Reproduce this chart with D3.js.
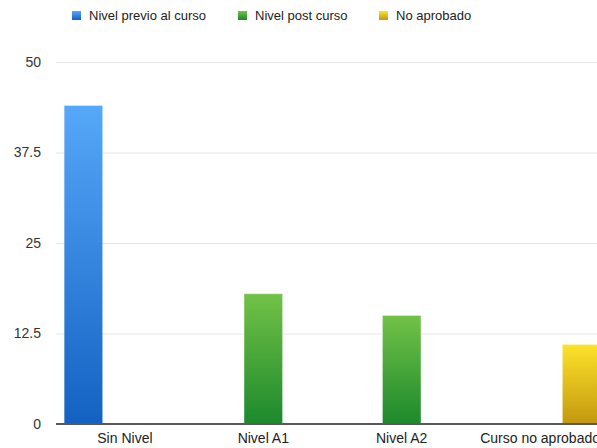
<!DOCTYPE html>
<html>
<head>
<meta charset="utf-8">
<script src="https://cdn.jsdelivr.net/npm/d3@7"></script>
<style>
  html, body { margin: 0; padding: 0; background: #fff; }
  svg { display: block; font-family: "Liberation Sans", Arial, sans-serif; }
</style>
</head>
<body>
<svg id="chart" width="597" height="448"></svg>
<script>
// ── Data ──────────────────────────────────────────────────────────────────────
const categories = ['Sin Nivel', 'Nivel A1', 'Nivel A2', 'Curso no aprobado'];
const seriesNames = ['Nivel previo al curso', 'Nivel post curso', 'No aprobado'];
const previoValues = [44, 0, 0, 0];
const postValues   = [0, 18, 15, 0];
const noAprobValues = [0, 0, 0, 11];
const yTicks = [0, 12.5, 25, 37.5, 50];

const seriesValues = [previoValues, postValues, noAprobValues];

// ── Colours (top / bottom of each bar gradient) ──────────────────────────────
const gradients = [
  { id: 'g-blue',   top: '#56a8f9', bottom: '#1361c2' },
  { id: 'g-green',  top: '#72c247', bottom: '#1c892c' },
  { id: 'g-yellow', top: '#fde32b', bottom: '#c3980f' }
];

const svg = d3.select('#chart');

// ── Layout ───────────────────────────────────────────────────────────────────
const plotLeft = 56, plotRight = 609, plotTop = 62, plotBottom = 424;

const x0 = d3.scaleBand()
  .domain(categories)
  .range([plotLeft, plotRight])
  .paddingInner(0.1)
  .paddingOuter(0.048);

const x1 = d3.scaleBand()
  .domain(d3.range(seriesNames.length))
  .range([0, x0.bandwidth()])
  .paddingInner(0.07)
  .paddingOuter(0.035);

const y = d3.scaleLinear().domain([0, 50]).range([plotBottom, plotTop]);

// ── Gradients ────────────────────────────────────────────────────────────────
const defs = svg.append('defs');
gradients.forEach(g => {
  const lg = defs.append('linearGradient')
    .attr('id', g.id)
    .attr('x1', 0).attr('y1', 0).attr('x2', 0).attr('y2', 1);
  lg.append('stop').attr('offset', '0%').attr('stop-color', g.top);
  lg.append('stop').attr('offset', '100%').attr('stop-color', g.bottom);
});

// ── Grid + y labels ──────────────────────────────────────────────────────────
const yAxis = svg.append('g')
  .attr('transform', `translate(${plotLeft},0)`)
  .call(d3.axisLeft(y).tickValues(yTicks).tickSize(-(597 - plotLeft)).tickFormat(d => d));

yAxis.select('.domain').remove();
yAxis.selectAll('.tick line').attr('stroke', '#e6e6e6').attr('stroke-width', 1);
yAxis.selectAll('.tick text')
  .attr('x', -15)
  .attr('fill', '#333')
  .attr('font-size', '14px')
  .attr('font-family', '"Liberation Sans", Arial, sans-serif');

// ── Bars ─────────────────────────────────────────────────────────────────────
const groups = svg.append('g')
  .selectAll('g')
  .data(categories)
  .join('g')
  .attr('transform', d => `translate(${x0(d)},0)`);

groups.selectAll('rect')
  .data((d, i) => seriesValues.map((vals, s) => ({ s, v: vals[i] })).filter(e => e.v > 0))
  .join('rect')
  .attr('x', d => x1(d.s))
  .attr('y', d => y(d.v))
  .attr('width', x1.bandwidth())
  .attr('height', d => y(0) - y(d.v))
  .attr('fill', d => `url(#${gradients[d.s].id})`)
  .attr('stroke', 'rgba(255,255,255,0.45)')
  .attr('stroke-width', 1);

// ── Baseline ─────────────────────────────────────────────────────────────────
svg.append('line')
  .attr('x1', plotLeft).attr('x2', 597)
  .attr('y1', y(0)).attr('y2', y(0))
  .attr('stroke', '#5a5a5a')
  .attr('stroke-width', 2);

// ── X labels ─────────────────────────────────────────────────────────────────
svg.append('g')
  .selectAll('text')
  .data(categories)
  .join('text')
  .attr('x', d => x0(d) + x0.bandwidth() / 2)
  .attr('y', 443)
  .attr('text-anchor', 'middle')
  .attr('fill', '#222')
  .attr('font-size', '14px')
  .text(d => d);

// ── Legend ───────────────────────────────────────────────────────────────────
const legendX = [72, 238, 379];
const legend = svg.append('g')
  .selectAll('g')
  .data(seriesNames)
  .join('g')
  .attr('transform', (d, i) => `translate(${legendX[i]},11)`);

legend.append('rect')
  .attr('width', 9).attr('height', 9)
  .attr('fill', (d, i) => `url(#${gradients[i].id})`);

legend.append('text')
  .attr('x', 17)
  .attr('y', 9)
  .attr('fill', '#222')
  .attr('font-size', '13px')
  .text(d => d);
</script>
</body>
</html>
